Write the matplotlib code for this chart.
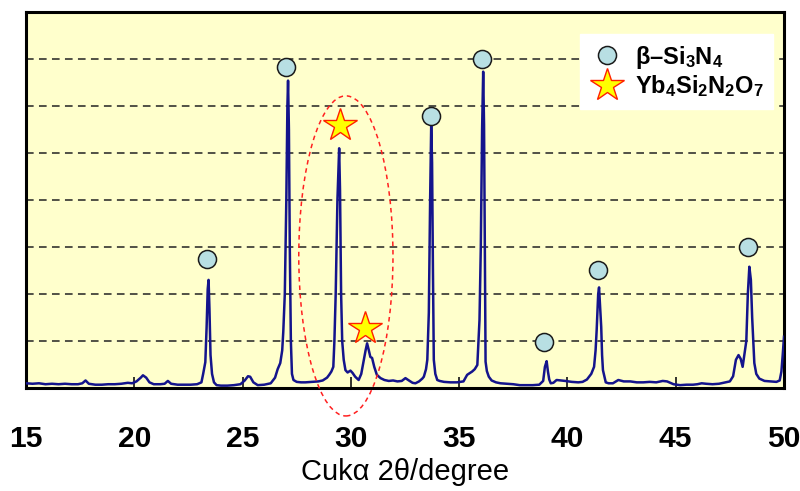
import matplotlib
matplotlib.use("Agg")
import matplotlib.pyplot as plt
from matplotlib.patches import Ellipse
from matplotlib.lines import Line2D

plt.rcParams['font.family'] = ['Liberation Sans', 'DejaVu Sans']
plt.rcParams['mathtext.fontset'] = 'custom'
plt.rcParams['mathtext.rm'] = 'Liberation Sans:bold'
plt.rcParams['mathtext.bf'] = 'Liberation Sans:bold'
plt.rcParams['mathtext.it'] = 'Liberation Sans:bold'

# XRD trace (2theta in degrees, intensity in grid units)
two_theta = [
    15.0, 15.3, 15.6, 15.9, 16.2, 16.5, 16.8, 17.1, 17.4, 17.6, 17.75, 17.9,
    18.2, 18.5, 18.8, 19.1, 19.4, 19.7, 19.9, 20.1, 20.3, 20.4, 20.55, 20.7,
    20.9, 21.2, 21.4, 21.55, 21.7, 22.0, 22.3, 22.6, 22.9, 23.1, 23.18, 23.28,
    23.34, 23.39, 23.43, 23.47, 23.52, 23.59, 23.68, 23.8, 24.0, 24.3, 24.6, 24.9,
    25.1, 25.25, 25.35, 25.5, 25.7, 26.0, 26.3, 26.5, 26.62, 26.74, 26.83, 26.88,
    26.95, 27.02, 27.07, 27.1, 27.14, 27.18, 27.23, 27.28, 27.35, 27.5, 27.7, 27.9,
    28.2, 28.5, 28.7, 28.9, 29.0, 29.1, 29.19, 29.24, 29.3, 29.38, 29.46, 29.5,
    29.55, 29.6, 29.67, 29.75, 29.85, 29.98, 30.08, 30.2, 30.36, 30.48, 30.58, 30.68,
    30.75, 30.82, 30.9, 30.98, 31.08, 31.2, 31.37, 31.55, 31.75, 31.95, 32.15, 32.35,
    32.52, 32.68, 32.85, 32.98, 33.15, 33.3, 33.37, 33.47, 33.53, 33.6, 33.66, 33.71,
    33.75, 33.79, 33.83, 33.9, 33.99, 34.1, 34.3, 34.6, 34.9, 35.2, 35.37, 35.5,
    35.6, 35.72, 35.84, 35.94, 36.0, 36.06, 36.11, 36.15, 36.19, 36.22, 36.28, 36.37,
    36.5, 36.7, 36.91, 37.2, 37.5, 37.8, 38.1, 38.4, 38.7, 38.88, 38.96, 39.04,
    39.1, 39.16, 39.23, 39.35, 39.5, 39.7, 39.9, 40.2, 40.5, 40.7, 40.9, 41.1,
    41.23, 41.3, 41.35, 41.42, 41.46, 41.51, 41.56, 41.6, 41.64, 41.77, 41.9, 42.1,
    42.35, 42.6, 42.9, 43.2, 43.5, 43.8, 44.1, 44.4, 44.6, 44.9, 45.2, 45.5,
    45.8, 46.0, 46.2, 46.4, 46.7, 47.0, 47.3, 47.5, 47.65, 47.78, 47.9, 48.0,
    48.09, 48.2, 48.26, 48.33, 48.4, 48.47, 48.53, 48.58, 48.63, 48.72, 48.86, 49.1,
    49.4, 49.65, 49.8, 49.88, 49.94, 50.0,
]
intensity = [
    0.10, 0.09, 0.10, 0.08, 0.09, 0.08, 0.09, 0.08, 0.08, 0.10, 0.16, 0.09,
    0.07, 0.07, 0.08, 0.08, 0.09, 0.11, 0.10, 0.14, 0.22, 0.27, 0.22, 0.12,
    0.08, 0.08, 0.09, 0.15, 0.09, 0.07, 0.07, 0.07, 0.08, 0.12, 0.30, 0.55,
    1.30, 2.10, 2.30, 1.70, 0.70, 0.30, 0.12, 0.06, 0.05, 0.05, 0.06, 0.08,
    0.16, 0.25, 0.24, 0.12, 0.06, 0.07, 0.10, 0.22, 0.40, 0.53, 0.80, 1.20,
    2.00, 4.00, 6.00, 6.54, 5.50, 3.00, 1.00, 0.30, 0.17, 0.13, 0.12, 0.12,
    0.13, 0.14, 0.16, 0.22, 0.28, 0.35, 0.45, 1.00, 2.00, 4.00, 5.10, 4.20,
    2.00, 1.00, 0.60, 0.38, 0.33, 0.37, 0.32, 0.24, 0.17, 0.30, 0.55, 0.80,
    0.95, 0.82, 0.66, 0.64, 0.45, 0.28, 0.21, 0.17, 0.15, 0.16, 0.14, 0.15,
    0.21, 0.16, 0.11, 0.10, 0.14, 0.20, 0.24, 0.40, 0.60, 1.60, 4.00, 5.60,
    4.80, 2.50, 0.60, 0.30, 0.17, 0.15, 0.13, 0.12, 0.12, 0.14, 0.28, 0.32,
    0.35, 0.40, 0.49, 1.45, 3.00, 5.50, 6.73, 5.60, 2.50, 0.56, 0.36, 0.24,
    0.16, 0.12, 0.10, 0.09, 0.08, 0.06, 0.06, 0.06, 0.07, 0.15, 0.45, 0.57,
    0.35, 0.18, 0.10, 0.11, 0.17, 0.16, 0.15, 0.13, 0.12, 0.13, 0.18, 0.30,
    0.45, 0.80, 1.23, 2.00, 2.14, 1.70, 1.30, 0.70, 0.38, 0.12, 0.10, 0.10,
    0.17, 0.14, 0.14, 0.12, 0.12, 0.13, 0.12, 0.15, 0.14, 0.08, 0.06, 0.07,
    0.07, 0.08, 0.10, 0.09, 0.08, 0.09, 0.12, 0.14, 0.25, 0.60, 0.70, 0.62,
    0.45, 0.80, 1.00, 2.00, 2.58, 2.30, 1.50, 1.00, 0.53, 0.30, 0.20, 0.15,
    0.14, 0.13, 0.16, 0.35, 0.70, 1.09,
]

# phase markers
si3n4_x = [23.38, 27.02, 33.68, 36.04, 38.93, 41.43, 48.36]
si3n4_y = [2.74, 6.82, 5.79, 7.01, 0.97, 2.51, 3.01]
yb_x = [29.49, 30.67]
yb_y = [5.60, 1.27]

x_ticks = [15, 20, 25, 30, 35, 40, 45, 50]
grid_levels = [1, 2, 3, 4, 5, 6, 7]
legend_labels = [r'$\mathrm{β–Si_{3}N_{4}}$', r'$\mathrm{Yb_{4}Si_{2}N_{2}O_{7}}$']
x_label = 'Cukα 2θ/degree'

fig = plt.figure(figsize=(8.0, 4.91), dpi=100)
ax = fig.add_axes([0.0325, 0.2098, 0.9475, 0.7658])
ax.set_facecolor('#FFFFCC')

for g in grid_levels:
    ax.axhline(g, color='#222222', lw=1.1, ls=(0, (5, 3.5)), zorder=1)

ax.plot(two_theta, intensity, color='#14148C', lw=1.8, zorder=3)

ax.plot(si3n4_x, si3n4_y, ls='none', marker='o', ms=13, mfc='#B8DFE3',
        mec='#1a1a1a', mew=1.1, zorder=5)
ax.plot(yb_x, yb_y, ls='none', marker='*', ms=25, mfc='#FFFF00',
        mec='#FF2000', mew=1.0, zorder=5)

ell = Ellipse((29.77, 2.81), width=4.35, height=6.81, fill=False,
              ec='#FF2020', lw=1.1, ls=(0, (3, 2.5)), clip_on=False, zorder=4)
ax.add_patch(ell)

ax.set_xlim(15, 50)
ax.set_ylim(0, 8)
ax.set_xticks(x_ticks)
ax.set_xticklabels([str(t) for t in x_ticks], fontsize=21.6, fontweight='bold')
ax.tick_params(axis='x', direction='in', length=8, width=1.3, pad=27,
               colors='#222222', labelcolor='black')
ax.set_yticks([])
for s in ax.spines.values():
    s.set_linewidth(2.2)
    s.set_color('black')
ax.set_xlabel(x_label, fontsize=21, labelpad=3)

handles = [
    Line2D([], [], ls='none', marker='o', ms=13, mfc='#B8DFE3', mec='#1a1a1a', mew=1.1),
    Line2D([], [], ls='none', marker='*', ms=25, mfc='#FFFF00', mec='#FF2000', mew=1.0),
]
leg = ax.legend(handles, legend_labels, loc='upper right',
                bbox_to_anchor=(0.986, 0.941), frameon=True, fancybox=False,
                facecolor='white', edgecolor='white', framealpha=1,
                prop={'size': 17, 'weight': 'bold'}, handlelength=1.5,
                handletextpad=0.45, labelspacing=0.12, borderpad=0.4,
                borderaxespad=0)
leg.set_zorder(6)

fig.savefig('out.png', dpi=100, facecolor='white')
